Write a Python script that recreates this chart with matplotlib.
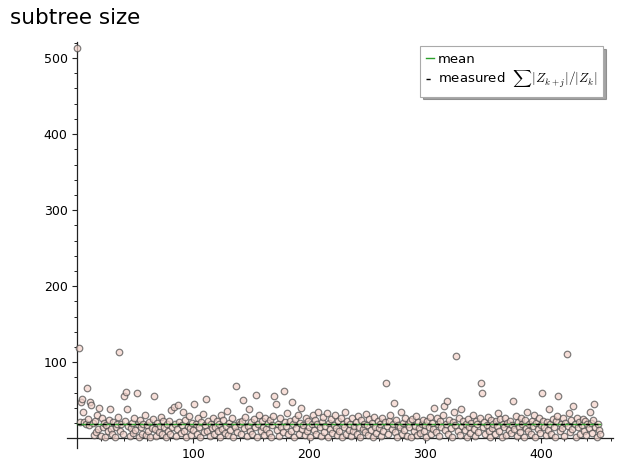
import matplotlib
matplotlib.use("Agg")
import matplotlib.pyplot as plt
from matplotlib.ticker import MultipleLocator, FixedLocator

plt.rcParams["mathtext.fontset"] = "cm"

# subtree size per step k
subtree_sizes = [
    513, 118, 21, 48, 52, 34, 21, 19, 66, 25, 17, 48, 44, 20, 4, 22, 8, 30, 12, 40,
    3, 26, 15, 20, 2, 17, 9, 24, 38, 12, 6, 21, 1, 14, 19, 28, 113, 10, 18, 5,
    55, 22, 61, 38, 16, 3, 13, 20, 7, 27, 11, 59, 18, 2, 24, 15, 6, 19, 31, 4,
    17, 9, 21, 1, 13, 25, 56, 12, 3, 20, 8, 16, 28, 5, 22, 14, 2, 18, 10, 23,
    6, 37, 15, 41, 19, 3, 12, 44, 21, 7, 17, 34, 9, 24, 1, 16, 29, 13, 4, 20,
    11, 45, 18, 6, 26, 14, 2, 21, 32, 8, 17, 51, 10, 23, 3, 19, 13, 27, 5, 15,
    22, 9, 18, 1, 30, 12, 24, 7, 16, 36, 4, 20, 11, 26, 2, 17, 14, 69, 8, 21,
    19, 5, 23, 50, 13, 28, 3, 16, 38, 10, 21, 6, 25, 14, 57, 2, 18, 31, 9, 22,
    15, 4, 27, 12, 20, 7, 24, 1, 17, 29, 55, 45, 11, 19, 3, 26, 14, 8, 62, 21,
    16, 33, 5, 23, 10, 48, 18, 2, 25, 13, 30, 6, 20, 40, 12, 17, 4, 27, 9, 22,
    15, 1, 19, 31, 11, 24, 6, 18, 34, 14, 3, 21, 28, 8, 16, 33, 2, 20, 12, 25,
    7, 17, 30, 13, 4, 22, 10, 26, 1, 19, 15, 35, 5, 23, 11, 18, 3, 27, 9, 16,
    21, 6, 29, 14, 2, 24, 12, 19, 8, 32, 17, 4, 25, 11, 20, 1, 28, 15, 7, 22,
    13, 18, 3, 26, 10, 21, 73, 16, 5, 23, 30, 12, 19, 46, 8, 24, 2, 17, 14, 35,
    6, 20, 11, 27, 3, 18, 15, 22, 1, 25, 9, 16, 29, 4, 21, 13, 7, 19, 24, 10,
    17, 2, 23, 14, 28, 5, 20, 12, 40, 8, 26, 18, 3, 22, 15, 31, 42, 11, 19, 49,
    6, 24, 13, 2, 21, 35, 17, 108, 9, 27, 4, 38, 16, 22, 11, 19, 1, 25, 14, 7,
    20, 30, 12, 3, 23, 18, 8, 26, 73, 59, 15, 21, 5, 17, 28, 10, 2, 24, 13, 19,
    6, 22, 16, 33, 9, 25, 1, 18, 14, 27, 4, 20, 11, 23, 7, 17, 49, 12, 29, 3,
    21, 15, 8, 26, 18, 2, 24, 13, 35, 10, 19, 5, 22, 16, 31, 1, 20, 12, 27, 7,
    17, 59, 23, 14, 4, 21, 11, 38, 19, 6, 25, 15, 2, 22, 29, 55, 9, 18, 13, 26,
    3, 20, 111, 16, 33, 8, 24, 12, 42, 19, 1, 27, 14, 21, 6, 17, 25, 10, 22, 4,
    18, 13, 35, 20, 7, 24, 45, 15, 2, 19, 11, 5,
]
steps = list(range(len(subtree_sizes)))

mean_size = 19.2
measured_size = 19.0

x_ticks = [100, 200, 300, 400]
y_ticks = [100, 200, 300, 400, 500]

fig = plt.figure(figsize=(6.21, 4.66), dpi=100)
ax = fig.add_axes([0.1079, 0.0386, 0.879, 0.871])

ax.scatter(steps, subtree_sizes, s=22, facecolor="#f4d2ca", edgecolor="#4a4a4a",
           linewidths=0.9, alpha=0.7, zorder=3)

last = steps[-1]
ax.plot([0, last], [mean_size, mean_size], color="#2ca02c", lw=1.0, zorder=4,
        label="mean")
ax.plot([0, last], [measured_size, measured_size], color="black", lw=1.0,
        ls=(0, (3, 3)), zorder=5,
        label=r"measured  $\sum|Z_{k+j}|/|Z_k|$")

ax.set_xlim(-9, 462)
ax.set_ylim(-13, 521)

for side in ("top", "right"):
    ax.spines[side].set_visible(False)
ax.spines["left"].set_position(("data", 0))
ax.spines["bottom"].set_position(("data", 0))
for side in ("left", "bottom"):
    ax.spines[side].set_color("#222222")
    ax.spines[side].set_linewidth(0.9)

ax.xaxis.set_major_locator(FixedLocator(x_ticks))
ax.yaxis.set_major_locator(FixedLocator(y_ticks))
ax.xaxis.set_minor_locator(MultipleLocator(20))
ax.yaxis.set_minor_locator(MultipleLocator(20))
ax.tick_params(which="major", length=3.5, width=0.8, labelsize=9, color="#222222")
ax.tick_params(which="minor", length=2.2, width=0.7, color="#222222")

leg = ax.legend(loc="upper right", bbox_to_anchor=(0.99, 1.0),
                prop={"size": 9.5}, frameon=True, fancybox=False, shadow=True,
                handlelength=0.6, handletextpad=0.25, borderpad=0.5,
                labelspacing=0.25, borderaxespad=0.3)
leg.get_frame().set_edgecolor("#aaaaaa")
leg.get_frame().set_linewidth(0.8)

fig.text(10 / 621, 1 - 18 / 466, "subtree size", fontsize=15.5, ha="left",
         va="center")

fig.savefig("out.png", dpi=100)
